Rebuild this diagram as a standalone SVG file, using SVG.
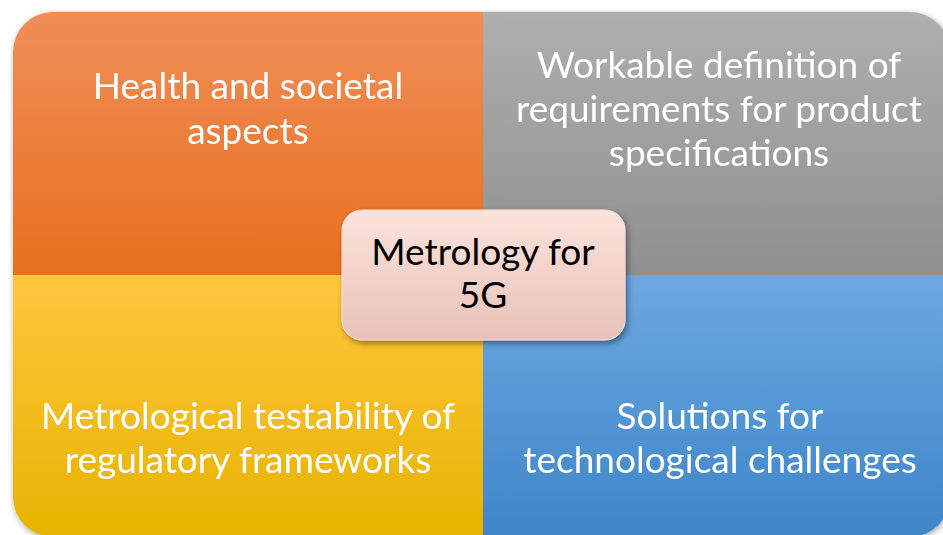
<svg xmlns="http://www.w3.org/2000/svg" width="943" height="535" viewBox="0 0 943 535">
<defs>
<linearGradient id="gO" x1="0" y1="0" x2="0" y2="1"><stop offset="0" stop-color="#f08e58"/><stop offset="1" stop-color="#e86f1f"/></linearGradient>
<linearGradient id="gG" x1="0" y1="0" x2="0" y2="1"><stop offset="0" stop-color="#afafaf"/><stop offset="1" stop-color="#8f8f8f"/></linearGradient>
<linearGradient id="gY" x1="0" y1="0" x2="0" y2="1"><stop offset="0" stop-color="#ffc63e"/><stop offset="1" stop-color="#e7b300"/></linearGradient>
<linearGradient id="gB" x1="0" y1="0" x2="0" y2="1"><stop offset="0" stop-color="#6ca8e0"/><stop offset="1" stop-color="#3e85c9"/></linearGradient>
<linearGradient id="gC" x1="0" y1="0" x2="0" y2="1"><stop offset="0" stop-color="#fce3dc"/><stop offset="1" stop-color="#e8c2b8"/></linearGradient>
<filter id="sh" x="-5%" y="-5%" width="110%" height="110%"><feDropShadow dx="1" dy="2" stdDeviation="3" flood-color="#000" flood-opacity="0.35"/></filter>
<filter id="sh2" x="-10%" y="-10%" width="120%" height="130%"><feDropShadow dx="2" dy="3" stdDeviation="3" flood-color="#000" flood-opacity="0.4"/></filter>
</defs>
<style>
.t{font-family:Lato,"Open Sans","Liberation Sans",sans-serif;font-size:37px;fill:#fff;text-anchor:middle}
.c{font-family:Lato,"Open Sans","Liberation Sans",sans-serif;font-size:37px;fill:#000;text-anchor:middle}
</style>
<rect width="943" height="535" fill="#fff"/>
<g filter="url(#sh)">
<g id="health">
<path d="M13,52 A40,40 0 0 1 53,12 H483 V275 H13 Z" fill="url(#gO)"/>
<text class="t" x="248" y="99">Health and societal</text>
<text class="t" x="248" y="144">aspects</text>
</g>
<g id="workable">
<path d="M483,12 H910 A40,40 0 0 1 950,52 V275 H483 Z" fill="url(#gG)"/>
<text class="t" x="719" y="78">Workable definition of</text>
<text class="t" x="719" y="122">requirements for product</text>
<text class="t" x="719" y="166">specifications</text>
</g>
<g id="metrological">
<path d="M13,275 H483 V537 H53 A40,40 0 0 1 13,497 Z" fill="url(#gY)"/>
<text class="t" x="248" y="429">Metrological testability of</text>
<text class="t" x="248" y="473">regulatory frameworks</text>
</g>
<g id="solutions">
<path d="M483,275 H950 V497 A40,40 0 0 1 910,537 H483 Z" fill="url(#gB)"/>
<text class="t" x="720" y="429">Solutions for</text>
<text class="t" x="720" y="473">technological challenges</text>
</g>
</g>
<g id="connectors"/>
<g id="center">
<rect x="342" y="210" width="283" height="130" rx="20" fill="url(#gC)" stroke="#f6ddd6" stroke-width="1" filter="url(#sh2)"/>
<text class="c" x="483" y="265">Metrology for</text>
<text class="c" x="483" y="308">5G</text>
</g>
</svg>
